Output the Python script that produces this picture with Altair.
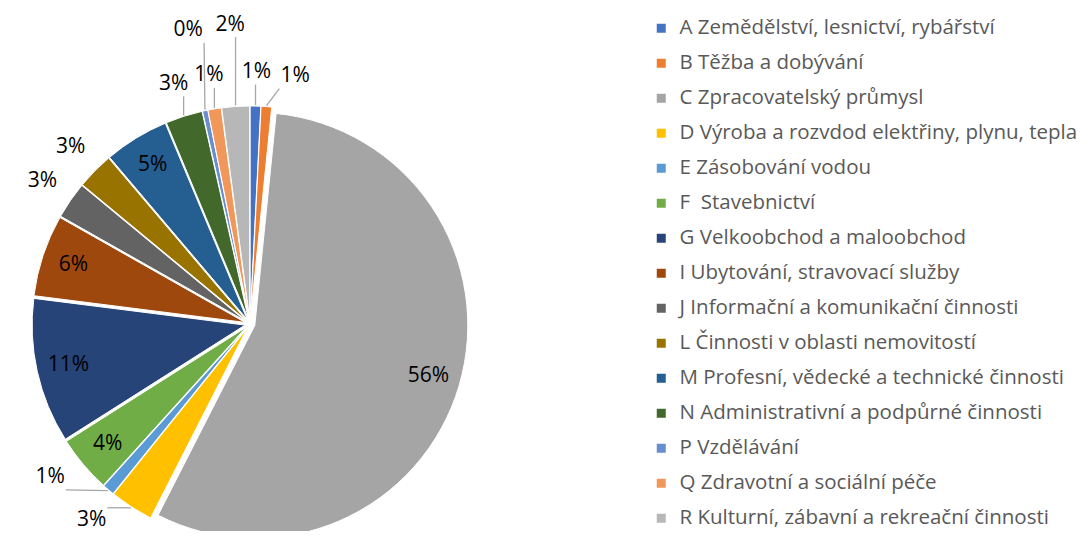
import math
import altair as alt
import pandas as pd

# ---------------- data ----------------
categories = [
    "A Zemědělství, lesnictví, rybářství",
    "B Těžba a dobývání",
    "C Zpracovatelský průmysl",
    "D Výroba a rozvdod elektřiny, plynu, tepla",
    "E Zásobování vodou",
    "F \u00a0Stavebnictví",
    "G Velkoobchod a maloobchod",
    "I Ubytování, stravovací služby",
    "J Informační a komunikační činnosti",
    "L Činnosti v oblasti nemovitostí",
    "M Profesní, vědecké a technické činnosti",
    "N Administrativní a podpůrné činnosti",
    "P Vzdělávání",
    "Q Zdravotní a sociální péče",
    "R Kulturní, zábavní a rekreační činnosti",
]
shares = [0.8, 0.8, 55.9, 3.3, 0.9, 4.3, 11.0, 6.2, 2.8, 2.8, 4.9, 2.8, 0.4, 1.0, 2.1]
colors = [
    "#4472C4", "#ED7D31", "#A5A5A5", "#FFC000", "#5B9BD5", "#70AD47", "#264478",
    "#9E480E", "#636363", "#997300", "#255E91", "#43682B", "#698ED0", "#F1975A", "#B7B7B7",
]

# ---------------- layout ----------------
W, H = 1073, 523
CX, CY = 242, 316
R = 213
EXPLODE = 5
FS = 21
FONT = "Open Sans"
INSIDE_MIN = 4.0
RINGS = [252, 300]
CANDIDATES = [(0, 0), (0, 6), (0, -6), (1, 0), (1, 6), (1, -6),
              (0, 12), (0, -12), (1, 12), (1, -12), (0, 18), (1, 18)]
PIE_RIGHT = 640


def polar(ang, r):
    a = math.radians(ang)
    return CX + r * math.sin(a), CY - r * math.cos(a)


def text_w(text):
    return FS * (0.572 * (len(text) - 1) + 0.84)


def box(x, y, text, pad=2):
    w = text_w(text)
    h = FS + 2
    return (x - w / 2 - pad, y - h / 2 - pad, x + w / 2 + pad, y + h / 2 + pad)


def glyph_box(x, y, text):
    w = text_w(text)
    h = 0.75 * FS
    return (x - w / 2, y - h / 2, x + w / 2, y + h / 2)


def overlap(b1, b2):
    return not (b1[2] <= b2[0] or b2[2] <= b1[0] or b1[3] <= b2[1] or b2[3] <= b1[1])


total = sum(shares)
arc_rows, label_rows, rule_rows = [], [], []
mids = []
cum = 0.0
for cat, v in zip(categories, shares):
    a0 = cum / total * 360
    cum += v
    a1 = cum / total * 360
    mid = (a0 + a1) / 2
    mids.append(mid)
    vx, vy = polar(mid, EXPLODE)
    arc_rows.append({"cat": cat, "x": vx, "y": vy,
                     "t0": math.radians(a0), "t1": math.radians(a1)})

texts = [f"{round(v / total * 100)}%" for v in shares]
pct = [v / total * 100 for v in shares]
outside_idx = [i for i in range(len(shares)) if pct[i] < INSIDE_MIN]

for i in range(len(shares)):
    if pct[i] >= INSIDE_MIN:
        x, y = polar(mids[i], 0.85 * R + EXPLODE)
        label_rows.append({"x": x, "y": y, "text": texts[i]})

placed = []
for i in outside_idx:
    chosen = None
    for ri, s in CANDIDATES:
        x, y = polar(mids[i] + s, RINGS[ri])
        b = box(x, y, texts[i])
        g = glyph_box(x, y, texts[i])
        if g[0] < 0 or g[1] < 0 or g[2] > PIE_RIGHT or g[3] > H:
            continue
        if any(overlap(b, p) for p in placed):
            continue
        chosen = (x, y, b, ri, s)
        break
    x, y, b, ri, s = chosen
    placed.append(b)
    label_rows.append({"x": x, "y": y, "text": texts[i]})
    crowded = any(abs(mids[i] - mids[j]) < 8 or abs(abs(mids[i] - mids[j]) - 360) < 8
                  for j in outside_idx if j != i)
    if ri > 0 or s != 0 or crowded:
        sx, sy = polar(mids[i], R + EXPLODE + 1)
        bx0, by0, bx1, by1 = box(x, y, texts[i], pad=1)
        ex = min(max(sx, bx0), bx1)
        ey = min(max(sy, by0), by1)
        rule_rows.append({"x": sx, "y": sy, "x2": ex, "y2": ey})

arc_df = pd.DataFrame(arc_rows)
label_df = pd.DataFrame(label_rows)
rule_df = pd.DataFrame(rule_rows)

xs = alt.Scale(domain=[0, W], range=[0, W], nice=False, zero=False)
ys = alt.Scale(domain=[0, H], range=[0, H], nice=False, zero=False)

pie = alt.Chart(arc_df).mark_arc(radius=R, stroke="white", strokeWidth=1).encode(
    x=alt.X("x:Q", scale=xs, axis=None),
    y=alt.Y("y:Q", scale=ys, axis=None),
    theta=alt.Theta("t0:Q", scale=None, stack=False),
    theta2=alt.Theta2("t1:Q"),
    color=alt.Color(
        "cat:N",
        scale=alt.Scale(domain=categories, range=colors),
        sort=categories,
        legend=alt.Legend(
            title=None, orient="none", legendX=643, legendY=10, padding=0,
            symbolType="square", symbolSize=81, symbolStrokeWidth=0,
            labelFont=FONT, labelFontSize=20.5, labelColor="#595959",
            labelLimit=700, labelOffset=8, rowPadding=14,
        ),
    ),
)

rules = alt.Chart(rule_df).mark_rule(color="#A6A6A6", strokeWidth=1.3).encode(
    x=alt.X("x:Q", scale=xs, axis=None),
    y=alt.Y("y:Q", scale=ys, axis=None),
    x2="x2:Q",
    y2="y2:Q",
)

labels = alt.Chart(label_df).mark_text(
    font=FONT, fontSize=FS, color="black", align="center", baseline="middle"
).encode(
    x=alt.X("x:Q", scale=xs, axis=None),
    y=alt.Y("y:Q", scale=ys, axis=None),
    text="text:N",
)

chart = alt.layer(pie, rules, labels).properties(
    width=W, height=H, autosize=alt.AutoSizeParams(type="none"), padding=0
).configure_view(stroke=None)

chart.save("out.html", embed_options={"renderer": "svg", "actions": False})
